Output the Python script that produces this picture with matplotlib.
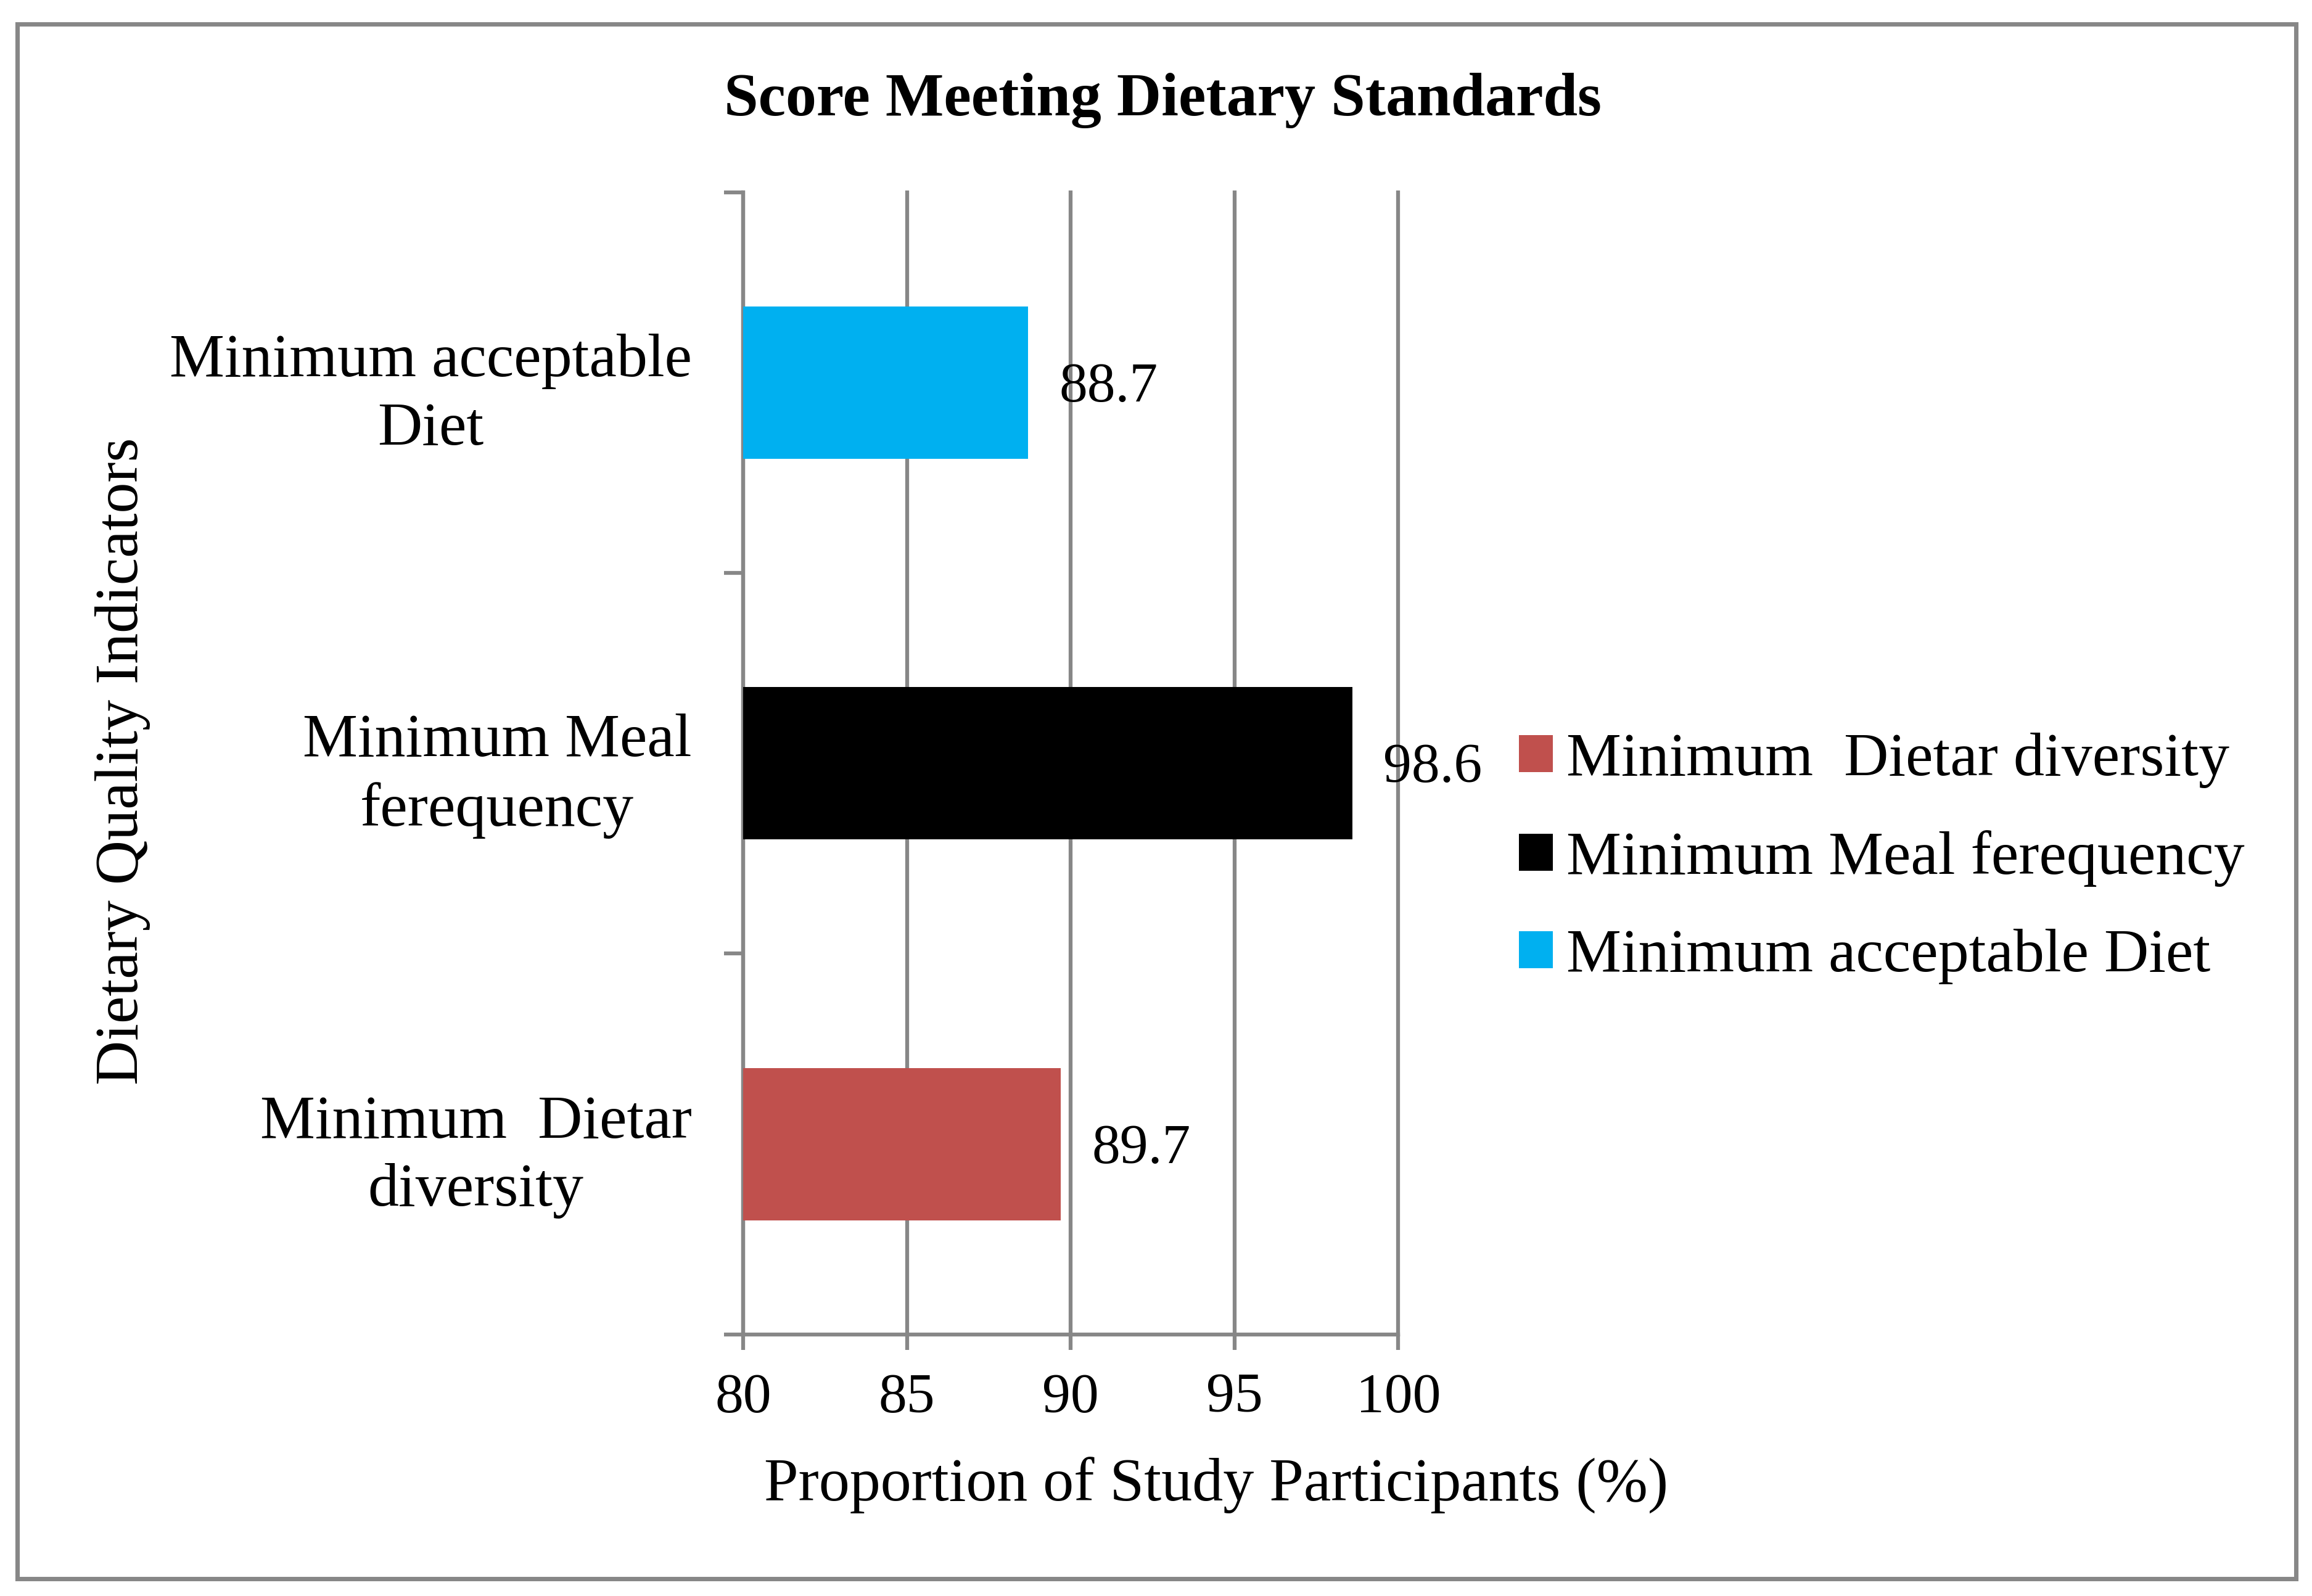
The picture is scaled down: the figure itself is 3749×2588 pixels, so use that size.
import matplotlib
matplotlib.use('Agg')
from matplotlib import pyplot as plt
from matplotlib.patches import Rectangle
import numpy as np

# data (bottom -> top, as drawn)
categories = ['Minimum  Dietar diversity', 'Minimum Meal ferequency', 'Minimum acceptable Diet']
tick_labels = ['Minimum  Dietar\ndiversity', 'Minimum Meal\nferequency', 'Minimum acceptable\nDiet']
values = [89.7, 98.6, 88.7]
colors = ['#C0504D', '#000000', '#00B0F0']
x_ticks = [80, 85, 90, 95, 100]

plt.rcParams['font.family'] = ['Liberation Serif', 'DejaVu Serif']
grey = '#878787'

fig = plt.figure(figsize=(3749 / 300, 2588 / 300), dpi=300)
ax = fig.add_axes([0.3214, 0.1639, 0.2834, 0.7157])

y = np.arange(len(categories))
bars = ax.barh(y, values, height=0.4, color=colors, label=categories, zorder=3)

for b, v in zip(bars, values):
    ax.annotate(f'{v}', (v, b.get_y() + b.get_height() / 2), xytext=(12, -2),
                textcoords='offset points', ha='left', va='center', fontsize=22)

ax.set_xlim(80, 100)
ax.set_ylim(-0.5, 2.5)
ax.set_xticks(x_ticks)
ax.set_xticklabels([str(t) for t in x_ticks], fontsize=22)
ax.set_yticks(y)
ax.set_yticklabels(tick_labels, fontsize=24, multialignment='center', linespacing=1.3)
ax.set_yticks([-0.5, 0.5, 1.5, 2.5], minor=True)

ax.tick_params(axis='y', which='major', length=0, pad=20)
ax.tick_params(axis='y', which='minor', length=7.5, width=1.5, color=grey, direction='out')
ax.tick_params(axis='x', length=6, width=1.5, color=grey, direction='out', pad=9)

ax.grid(axis='x', color=grey, linewidth=1.5, zorder=0)
for gl in ax.get_xgridlines():
    gl.set_clip_on(False)
for s in ['top', 'right']:
    ax.spines[s].set_visible(False)
for s in ['left', 'bottom']:
    ax.spines[s].set_color(grey)
    ax.spines[s].set_linewidth(1.5)

fig.text(0.503, 0.937, 'Score Meeting Dietary Standards', ha='center', va='center',
         fontsize=24, fontweight='bold')
fig.text(0.526, 0.069, 'Proportion of Study Participants (%)', ha='center', va='center',
         fontsize=24)
fig.text(0.053, 0.523, 'Dietary Quality Indicators', ha='center', va='center',
         rotation=90, fontsize=24)

handles, labels = ax.get_legend_handles_labels()
fig.legend(handles, labels, loc='center left', bbox_to_anchor=(0.633, 0.462),
           frameon=False, fontsize=24, handlelength=0.55, handleheight=0.55,
           handletextpad=0.22, labelspacing=0.68)

# grey frame around the whole chart
fig.patches.append(Rectangle((0.0075, 0.011), 0.9855, 0.974, transform=fig.transFigure,
                             fill=False, edgecolor=grey, linewidth=1.7))

fig.savefig('out.png', dpi=300)
